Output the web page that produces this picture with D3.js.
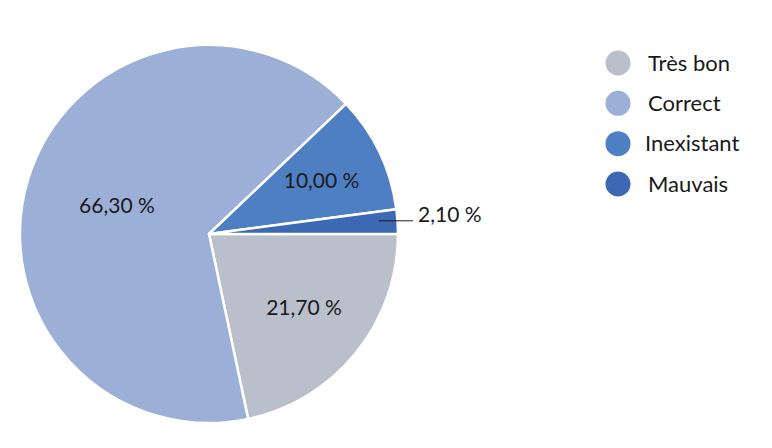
<!DOCTYPE html>
<html>
<head>
<meta charset="utf-8">
<script src="https://cdn.jsdelivr.net/npm/d3@7"></script>
<style>
  body { margin: 0; background: #fff; }
  text { font-family: Lato, "Noto Sans", sans-serif; fill: #1a1a1a; }
</style>
</head>
<body>
<div id="chart-area"></div>
<script>
var categories = ["Très bon", "Correct", "Inexistant", "Mauvais"];
var values = [21.7, 66.3, 10.0, 2.1];
var labels = ["21,70 %", "66,30 %", "10,00 %", "2,10 %"];
var colors = ["#b9c0cb", "#9cafd7", "#4f7fc3", "#3d69b4"];

var width = 772, height = 448;
var cx = 209, cy = 234, radius = 189;
// label distance from centre, as a share of the radius
var labelPos = [0.62, 0.51, 0.66, 0.9];

var svg = d3.select("#chart-area")
    .append("svg")
    .attr("width", width)
    .attr("height", height);

var g = svg.append("g")
    .attr("transform", "translate(" + cx + "," + cy + ")");

var pie = d3.pie()
    .sort(null)
    .startAngle(Math.PI / 2)
    .endAngle(Math.PI / 2 + 2 * Math.PI)
    .value(d => d);

var arcs = pie(values);

var arc = d3.arc().innerRadius(0).outerRadius(radius);

g.selectAll("path")
    .data(arcs)
    .enter()
    .append("path")
    .attr("d", arc)
    .attr("fill", (d, i) => colors[i])
    .attr("stroke", "#fff")
    .attr("stroke-width", 2.5)
    .attr("stroke-linejoin", "round");

arcs.forEach(function(d, i) {
    var a = (d.startAngle + d.endAngle) / 2;
    var r = radius * labelPos[i];
    var x = Math.sin(a) * r, y = -Math.cos(a) * r;
    if (i === 3) {
        // small slice: leader line out to the right
        g.append("line")
            .attr("x1", x).attr("y1", y - 2)
            .attr("x2", radius + 15).attr("y2", y - 2)
            .attr("stroke", "#1a1a1a")
            .attr("stroke-width", 1);
        g.append("text")
            .attr("x", radius + 20)
            .attr("y", y - 1)
            .attr("font-size", 21)
            .text(labels[i]);
    } else {
        g.append("text")
            .attr("x", x + (i === 0 ? 4 : 0))
            .attr("y", y)
            .attr("dy", "0.35em")
            .attr("text-anchor", "middle")
            .attr("font-size", 21)
            .text(labels[i]);
    }
});

var legendY = d3.scalePoint()
    .domain(categories)
    .range([63, 184]);

var legend = svg.append("g");

legend.selectAll("circle")
    .data(categories)
    .enter()
    .append("circle")
    .attr("cx", 618)
    .attr("cy", d => legendY(d))
    .attr("r", 12.5)
    .attr("fill", (d, i) => colors[i]);

legend.selectAll("text")
    .data(categories)
    .enter()
    .append("text")
    .attr("x", (d, i) => i === 2 ? 645 : 648)
    .attr("y", d => legendY(d))
    .attr("dy", "0.35em")
    .attr("font-size", 22)
    .text(d => d);
</script>
</body>
</html>
